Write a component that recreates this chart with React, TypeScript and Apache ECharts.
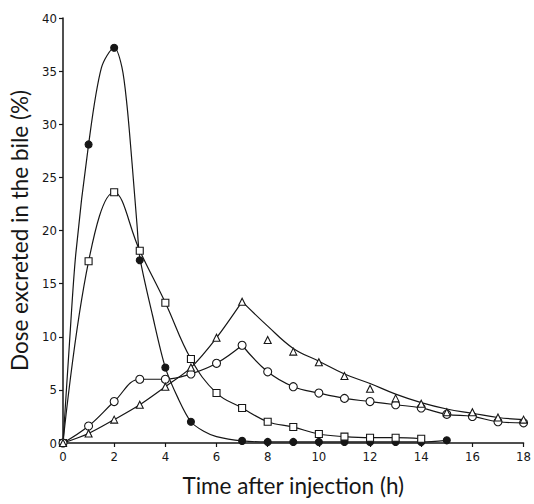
import React, { useEffect, useRef } from "react";
import * as echarts from "echarts";

// Measured points: dose excreted in the bile (%) against time after injection (h)
const filledHours = [0, 1, 2, 3, 4, 5, 7, 8, 9, 10, 11, 12, 13, 14, 15];
const filledDose = [0, 28.1, 37.2, 17.2, 7.1, 2.0, 0.2, 0.1, 0.1, 0.1, 0.1, 0.1, 0.1, 0.1, 0.25];

const squareHours = [0, 1, 2, 3, 4, 5, 6, 7, 8, 9, 10, 11, 12, 13, 14];
const squareDose = [0, 17.1, 23.6, 18.1, 13.2, 7.9, 4.7, 3.3, 2.0, 1.5, 0.85, 0.6, 0.5, 0.5, 0.4];

const allHours = [0, 1, 2, 3, 4, 5, 6, 7, 8, 9, 10, 11, 12, 13, 14, 15, 16, 17, 18];
const circleDose = [0, 1.6, 3.9, 6.0, 6.0, 6.5, 7.5, 9.2, 6.7, 5.3, 4.7, 4.2, 3.9, 3.6, 3.3, 2.7, 2.5, 2.0, 1.9];
const triangleDose = [0, 0.9, 2.2, 3.6, 5.3, 7.1, 9.9, 13.3, 9.7, 8.6, 7.6, 6.3, 5.1, 4.2, 3.7, 2.9, 2.9, 2.4, 2.2];

// Hand-drawn fitted curves
const filledFitHours = [0, 0.25, 0.5, 1, 1.5, 2, 2.3, 2.5, 2.7, 2.9, 3, 3.5, 4, 4.5, 5, 5.5, 6, 7, 8, 9, 10, 11, 12, 13, 14, 15];
const filledFitDose = [0, 9.3, 17.8, 28.1, 35.3, 37.2, 35.4, 31.8, 26.3, 20.3, 17.5, 12.0, 7.1, 4.2, 2.0, 1.1, 0.6, 0.2, 0.1, 0.1, 0.1, 0.1, 0.1, 0.1, 0.1, 0.25];

const triangleFitHours = [7, 8, 9, 10, 11, 12, 13, 14, 15, 16, 17, 18];
const triangleFitDose = [13.3, 11.0, 8.9, 7.7, 6.5, 5.6, 4.6, 3.8, 3.2, 2.8, 2.4, 2.2];

const PEAK_HOUR = 7;

const xTicks = [0, 2, 4, 6, 8, 10, 12, 14, 16, 18];
const yTicks = [0, 5, 10, 15, 20, 25, 30, 35, 40];

const INK = "#161616";

const pairs = (xs: number[], ys: number[]) => xs.map((x, i) => [x, ys[i]]);

function curve(data: number[][], smooth = 0.4) {
  return {
    type: "line",
    data,
    smooth,
    symbol: "none",
    showSymbol: false,
    silent: true,
    z: 2,
    lineStyle: { color: INK, width: 1.2 },
  };
}

function markers(data: number[][], symbol: string, size: number, fill: string) {
  return {
    type: "scatter",
    data,
    symbol,
    symbolSize: size,
    z: 3,
    itemStyle: { color: fill, borderColor: INK, borderWidth: 1.1, opacity: 1 },
  };
}

export default function App() {
  const ref = useRef<HTMLDivElement>(null);

  useEffect(() => {
    if (!ref.current) return;
    const chart = echarts.init(ref.current, null, { renderer: "svg" });

    const circlePts = pairs(allHours, circleDose);
    const trianglePts = pairs(allHours, triangleDose);

    const tickFont = {
      fontFamily: "'Liberation Sans Narrow', 'DejaVu Sans Condensed', Lato, sans-serif",
      fontSize: 13,
      color: INK,
    };
    const titleFont = { fontFamily: "Lato, 'Open Sans', sans-serif", fontSize: 22.5, color: INK };

    chart.setOption({
      animation: false,
      backgroundColor: "#ffffff",
      grid: { left: 63, right: 7, top: 18, bottom: 61, containLabel: false },
      xAxis: {
        type: "value",
        min: 0,
        max: 18,
        interval: 2,
        name: "Time after injection (h)",
        nameLocation: "middle",
        nameGap: 31,
        nameTextStyle: titleFont,
        axisLine: { show: true, lineStyle: { color: INK, width: 1.5 } },
        axisTick: { show: true, inside: false, length: 4, lineStyle: { color: INK, width: 1.2 }, customValues: xTicks },
        axisLabel: { ...tickFont, margin: 7, customValues: xTicks },
        splitLine: { show: false },
      },
      yAxis: {
        type: "value",
        min: 0,
        max: 40,
        interval: 5,
        name: "Dose excreted in the bile (%)",
        nameLocation: "middle",
        nameGap: 29,
        nameTextStyle: titleFont,
        axisLine: { show: true, lineStyle: { color: INK, width: 1.5 } },
        axisTick: { show: true, inside: false, length: 4, lineStyle: { color: INK, width: 1.2 }, customValues: yTicks },
        axisLabel: { ...tickFont, margin: 6, customValues: yTicks },
        splitLine: { show: false },
      },
      series: [
        curve(pairs(filledFitHours, filledFitDose), 0.3),
        curve(pairs(squareHours, squareDose), 0.4),
        curve(circlePts.filter((p) => p[0] <= PEAK_HOUR), 0.4),
        curve(circlePts.filter((p) => p[0] >= PEAK_HOUR), 0.4),
        curve(trianglePts.filter((p) => p[0] <= PEAK_HOUR), 0.3),
        curve(pairs(triangleFitHours, triangleFitDose), 0.4),
        markers(pairs(filledHours, filledDose), "circle", 7, INK),
        markers(pairs(squareHours, squareDose), "rect", 7, "#ffffff"),
        markers(circlePts, "circle", 8, "#ffffff"),
        markers(trianglePts, "triangle", 7, "#ffffff"),
      ],
    });

    return () => chart.dispose();
  }, []);

  return (
    <div
      ref={ref}
      style={{ position: "fixed", left: 0, top: 0, width: 534, height: 504, background: "#fff" }}
    />
  );
}
